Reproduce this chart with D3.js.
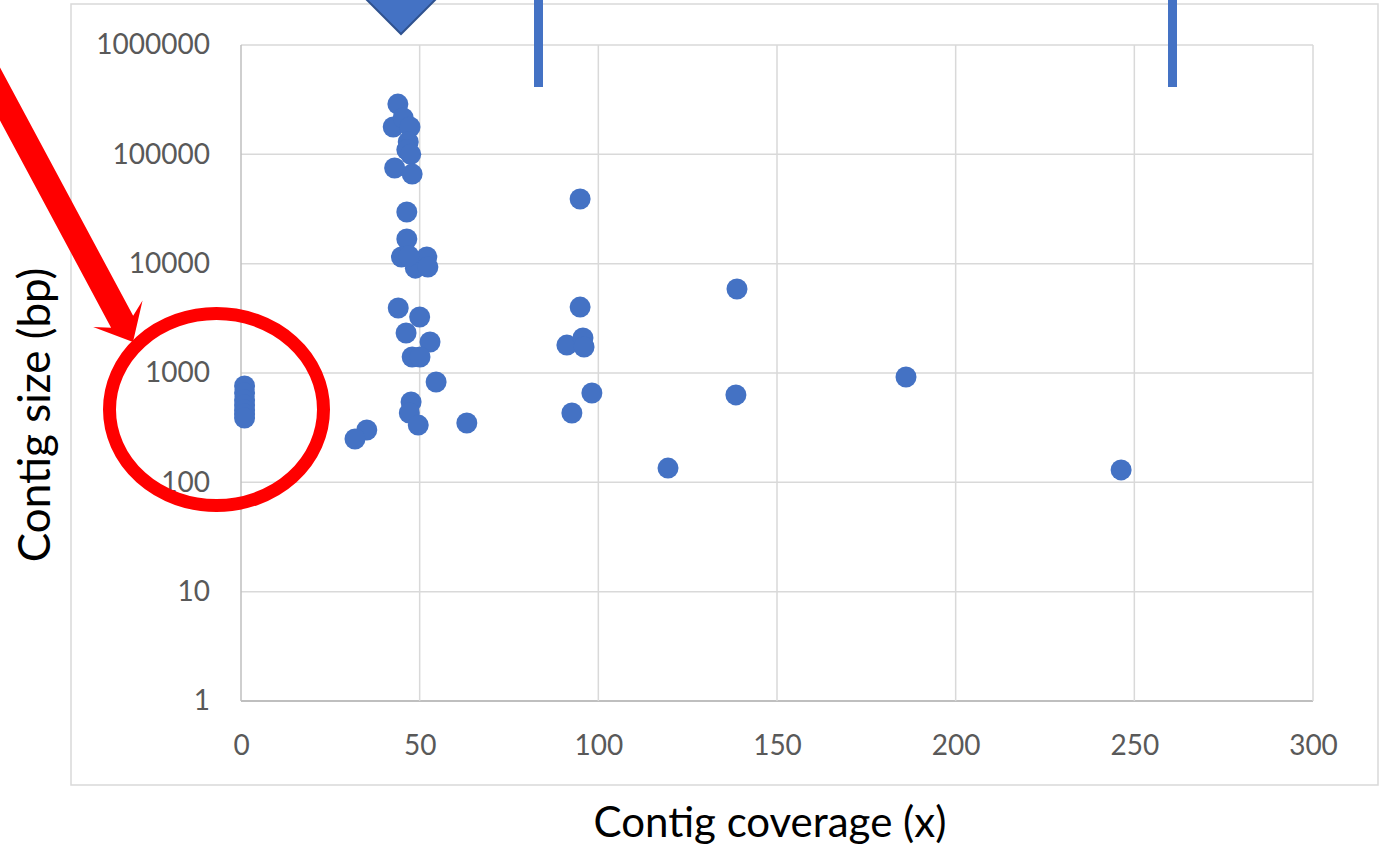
<!DOCTYPE html>
<html>
<head>
<meta charset="utf-8">
<script src="https://cdn.jsdelivr.net/npm/d3@7"></script>
<style>
  body { margin: 0; background: #fff; }
  svg { display: block; font-family: Lato, "Open Sans", sans-serif; }
</style>
</head>
<body>
<div id="chart"></div>
<script>
// contig coverage (x) and contig size (bp)
const coverage = [
  1, 1, 1, 1, 1, 1, 1,
  43.9, 42.6, 45.4, 47.3, 46.8, 46.4, 47.5, 43.0, 47.9,
  46.4, 46.4, 44.9, 49.2, 48.8, 52.0, 52.3, 47.0,
  44.0, 50.0, 46.2, 52.9, 47.9, 50.1, 54.6, 47.6, 47.1, 49.6,
  63.2, 35.2, 31.9,
  94.9, 94.9, 91.2, 95.7, 96.0, 98.2, 92.6,
  138.8, 138.5, 119.5, 186.1, 246.3
];
const contigSize = [
  760, 656, 567, 510, 459, 422, 388,
  288000, 178000, 215000, 178000, 130000, 110000, 100000, 75000, 66000,
  29700, 16800, 11500, 9700, 9100, 11500, 9300, 11800,
  3930, 3250, 2320, 1920, 1400, 1400, 828, 543, 431, 334,
  349, 301, 249,
  39000, 4010, 1800, 2090, 1730, 656, 431,
  5870, 630, 135, 919, 130
];
const xTicks = [0, 50, 100, 150, 200, 250, 300];
const yTicks = [1, 10, 100, 1000, 10000, 100000, 1000000];

const W = 1384, H = 850;
const margin = { top: 45, right: 71, bottom: 149, left: 241 };

const svg = d3.select("#chart").append("svg")
    .attr("width", W)
    .attr("height", H);

// outer chart box
svg.append("rect")
    .attr("x", 71).attr("y", 4)
    .attr("width", 1307).attr("height", 781)
    .attr("fill", "none")
    .attr("stroke", "#d9d9d9")
    .attr("stroke-width", 1.5);

const xScale = d3.scaleLinear().domain([0, 300]).range([margin.left, W - margin.right]);
const yScale = d3.scaleLog().domain([1, 1000000]).range([H - margin.bottom, margin.top]);

// gridlines
svg.append("g").selectAll("line")
    .data(yTicks)
    .join("line")
    .attr("x1", xScale(0)).attr("x2", xScale(300))
    .attr("y1", d => yScale(d)).attr("y2", d => yScale(d))
    .attr("stroke", d => d === 1 ? "#bfbfbf" : "#d9d9d9")
    .attr("stroke-width", d => d === 1 ? 2 : 1.5);

svg.append("g").selectAll("line")
    .data(xTicks)
    .join("line")
    .attr("x1", d => xScale(d)).attr("x2", d => xScale(d))
    .attr("y1", yScale(1000000)).attr("y2", yScale(1))
    .attr("stroke", d => d === 0 ? "#bfbfbf" : "#d9d9d9")
    .attr("stroke-width", 1.5);

// axes, labels only
const yAxis = svg.append("g")
    .attr("transform", "translate(" + (margin.left - 31) + ",0)")
    .call(d3.axisLeft(yScale).tickValues(yTicks).tickFormat(d3.format("d")).tickSize(0).tickPadding(0));
const xAxis = svg.append("g")
    .attr("transform", "translate(0," + (H - margin.bottom + 44) + ")")
    .call(d3.axisBottom(xScale).tickValues(xTicks).tickSize(0).tickPadding(0));

[yAxis, xAxis].forEach(function (ax) {
    ax.select(".domain").remove();
    ax.selectAll("text")
        .attr("fill", "#595959")
        .style("font-size", "28px")
        .style("font-family", "Lato, sans-serif");
});
xAxis.selectAll("text").attr("dy", "0.35em");

// axis titles
svg.append("text")
    .attr("x", 770).attr("y", 821)
    .attr("text-anchor", "middle")
    .attr("dominant-baseline", "central")
    .style("font-size", "42px")
    .text("Contig coverage (x)");

svg.append("text")
    .attr("transform", "translate(33,415) rotate(-90)")
    .attr("text-anchor", "middle")
    .attr("dominant-baseline", "central")
    .style("font-size", "44px")
    .text("Contig size (bp)");

// points
svg.append("g").selectAll("circle")
    .data(coverage.map((c, i) => ({ x: c, y: contigSize[i] })))
    .join("circle")
    .attr("cx", d => xScale(d.x))
    .attr("cy", d => yScale(d.y))
    .attr("r", 10.5)
    .attr("fill", "#4472c4");

// annotations drawn over the chart
const notes = svg.append("g");

notes.append("path")
    .attr("d", "M365,-2 L437,-2 L401,34 Z")
    .attr("fill", "#4472c4")
    .attr("stroke", "#2f528f")
    .attr("stroke-width", 2);

[538.5, 1172.5].forEach(function (cx) {
    notes.append("rect")
        .attr("x", cx - 4.5).attr("y", 0)
        .attr("width", 9).attr("height", 87)
        .attr("fill", "#4472c4");
});

notes.append("ellipse")
    .attr("cx", 216.5).attr("cy", 409.5)
    .attr("rx", 107).attr("ry", 96)
    .attr("fill", "none")
    .attr("stroke", "#ff0000")
    .attr("stroke-width", 13);

// red arrow: shaft + head, built along its direction
const tip = [133, 342];
const ang = Math.atan2(342 - 94, 133 - 0);
const ux = Math.cos(ang), uy = Math.sin(ang);
const px = -uy, py = ux;
const headLen = 32, headHalf = 28, shaftHalf = 12.5, back = 320;
const base = [tip[0] - ux * headLen, tip[1] - uy * headLen];
const notch = [tip[0] - ux * (headLen - 9), tip[1] - uy * (headLen - 9)];
const start = [tip[0] - ux * back, tip[1] - uy * back];
const pts = [
    [start[0] + px * shaftHalf, start[1] + py * shaftHalf],
    [notch[0] + px * shaftHalf, notch[1] + py * shaftHalf],
    [base[0] + px * headHalf, base[1] + py * headHalf],
    tip,
    [base[0] - px * headHalf, base[1] - py * headHalf],
    [notch[0] - px * shaftHalf, notch[1] - py * shaftHalf],
    [start[0] - px * shaftHalf, start[1] - py * shaftHalf]
];
notes.append("path")
    .attr("d", "M" + pts.map(p => p.join(",")).join("L") + "Z")
    .attr("fill", "#ff0000");
</script>
</body>
</html>
